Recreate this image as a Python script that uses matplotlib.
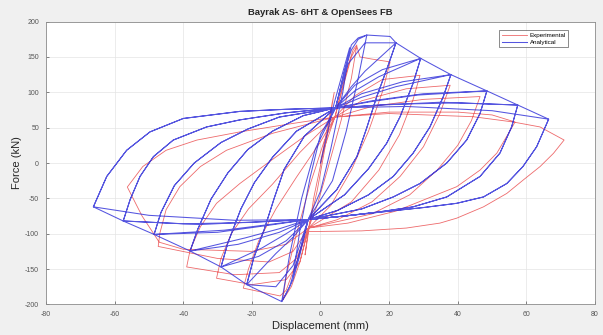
import matplotlib
matplotlib.use("Agg")
import matplotlib.pyplot as plt

# ---------------- data (displacement mm, force kN) ----------------
title = "Bayrak AS- 6HT & OpenSees FB"
xlabel = "Displacement (mm)"
ylabel = "Force (kN)"
series_names = ["Experimental", "Analytical"]
xticks = [-80, -60, -40, -20, 0, 20, 40, 60, 80]
yticks = [-200, -150, -100, -50, 0, 50, 100, 150, 200]

# Analytical (OpenSees) cycles: branches
blue_load_pos = [
    [(0, 0), (4, 85), (8.5, 163)],
    [(4.4, 78), (7, 130), (9, 160), (11, 175), (13.5, 181)],
    [(4.4, 78), (7, 130), (9, 167), (11, 177), (13.5, 181), (20.3, 179), (22, 170)],
    [(4.4, 78), (9, 108), (13, 130), (22, 170), (29.2, 148)],
    [(4.4, 78), (10, 102), (17, 122), (29.2, 148), (38, 125)],
    [(4.4, 78), (12, 93), (22, 108), (38, 125), (48.5, 102)],
    [(4.4, 78), (15, 87), (28, 96), (48.5, 102), (57.5, 82)],
    [(4.4, 78), (18, 82), (35, 86), (57.5, 82), (66.5, 62)],
]
blue_reload_pos = [
    None,
    None,
    [(4.4, 78), (8, 140), (13, 170), (22, 170)],
    [(4.4, 78), (10, 110), (18, 132), (29.2, 148)],
    [(4.4, 78), (12, 98), (24, 115), (38, 125)],
    [(4.4, 78), (15, 88), (30, 98), (48.5, 102)],
    [(4.4, 78), (20, 83), (40, 85), (57.5, 82)],
    [(4.4, 78), (25, 80), (50, 74), (66.5, 62)],
]
blue_unload_pos = [
    [(8.5, 163), (6.5, 100), (3, 20), (0, -40), (-3.6, -80)],
    [(13.5, 181), (11, 120), (7.5, 45), (3.5, -25), (-3.6, -80)],
    [(22, 170), (19.5, 135), (16.4, 94), (13.5, 50), (10.6, 9), (4.7, -38), (-3.6, -80)],
    [(29.2, 148), (27, 113), (23.2, 65.5), (19.3, 28), (14, -8), (7, -45), (-3.6, -80)],
    [(38, 125), (35.8, 94), (31.9, 51), (27, 14), (21.2, -19), (14, -45), (5, -67), (-3.6, -80)],
    [(48.5, 102), (46.5, 70), (42.6, 32.5), (36.8, 0), (29, -29), (21.2, -48), (12, -65), (-3.6, -80)],
    [(57.5, 82), (55.7, 51), (52.3, 14), (46.5, -19), (36.8, -48), (27, -62), (17.3, -69), (7, -75), (-3.6, -80)],
    [(66.5, 62), (63, 23), (59, -5), (54.3, -29), (47.5, -48), (39.7, -57), (30, -63), (18.3, -69), (7, -75), (-3.6, -80)],
]
blue_load_neg = [
    [(-3.6, -80), (-6, -125), (-8, -160)],
    [(-3.6, -80), (-6, -130), (-8, -165), (-10, -185), (-11.3, -196)],
    [(-3.6, -80), (-6.5, -135), (-9, -175), (-11.3, -196), (-21.5, -172)],
    [(-3.6, -80), (-8, -105), (-13, -128), (-21.5, -172), (-29, -147)],
    [(-3.6, -80), (-10, -100), (-17, -120), (-29, -147), (-38, -124.5)],
    [(-3.6, -80), (-12, -93), (-22, -106), (-38, -124.5), (-48.5, -101)],
    [(-3.6, -80), (-15, -87), (-28, -95), (-48.5, -101), (-57.5, -82)],
    [(-3.6, -80), (-18, -83), (-35, -87), (-57.5, -82), (-66.2, -62)],
]
blue_reload_neg = [
    None,
    None,
    [(-3.6, -80), (-8, -145), (-13, -175), (-21.5, -172)],
    [(-3.6, -80), (-10, -110), (-18, -132), (-29, -147)],
    [(-3.6, -80), (-12, -98), (-24, -115), (-38, -124.5)],
    [(-3.6, -80), (-15, -88), (-30, -98), (-48.5, -101)],
    [(-3.6, -80), (-20, -84), (-40, -86), (-57.5, -82)],
    [(-3.6, -80), (-25, -81), (-50, -74), (-66.2, -62)],
]
blue_unload_neg = [
    [(-8, -160), (-6, -95), (-3, -20), (0, 40), (4.4, 78)],
    [(-11.3, -196), (-9, -130), (-5.5, -50), (-1.5, 20), (4.4, 78)],
    [(-21.5, -172), (-19.5, -135), (-16.4, -94), (-13.5, -50), (-10.6, -9), (-4.7, 38), (4.4, 78)],
    [(-29, -147), (-27, -113), (-23.2, -65), (-19.3, -28), (-14, 8), (-7, 45), (4.4, 78)],
    [(-38, -124.5), (-35.8, -94), (-31.9, -51), (-27, -14), (-21.2, 19), (-14, 45), (-5, 67), (4.4, 78)],
    [(-48.5, -101), (-46.5, -70), (-42.6, -32), (-36.8, 0), (-29, 29), (-21.2, 48), (-12, 65), (4.4, 78)],
    [(-57.5, -82), (-55.5, -52), (-52.6, -19), (-48.7, 9), (-42.9, 32.5), (-33.2, 51), (-23.5, 61), (-10, 71), (4.4, 78)],
    [(-66.2, -62), (-62.3, -19), (-56.5, 18), (-49.7, 44), (-40, 63), (-23.5, 73), (-10, 76), (4.4, 78)],
]

# Experimental cycles
red_load_pos = [
    [(0, 0), (2, 50), (4, 100)],
    [(4.2, 65), (6.5, 110), (8.5, 145), (9.5, 160), (10.6, 167)],
    [(4.2, 65), (7, 115), (9, 150), (10.6, 165), (11.5, 150), (15, 147), (20.3, 143)],
    [(4.2, 65), (10, 95), (18, 118), (29, 124)],
    [(4.2, 65), (12, 88), (25, 105), (37.8, 110)],
    [(4.2, 65), (15, 80), (30, 90), (46.5, 94)],
    [(4.2, 65), (20, 72), (40, 72), (50, 68), (56.7, 58)],
    [(4.2, 65), (20, 70), (44.5, 65.5), (56.2, 58), (64, 51), (71, 32.5)],
]
red_unload_pos = [
    [(4, 100), (2, 40), (-1, -40), (-3.5, -92)],
    [(10.6, 167), (9, 120), (6, 60), (2, -10), (-1, -60), (-3.5, -92)],
    [(20.3, 143), (18, 100), (14, 45), (9, -10), (3, -60), (-3.5, -92)],
    [(29, 124), (27, 90), (23, 40), (17, -10), (9, -55), (-3.5, -92)],
    [(37.8, 110), (34.8, 70), (30, 23), (23.2, -19), (15, -55), (5, -80), (-3.5, -92)],
    [(46.5, 94), (44, 60), (40, 25), (34, -10), (26, -45), (15, -72), (-3.5, -92)],
    [(56.7, 58), (54.8, 42), (51.4, 14), (46.5, -10), (39.7, -33.5), (34.8, -43), (22, -68), (8, -85), (-3.5, -92)],
    [(71, 32.5), (67.9, 13.7), (64, -5), (59.1, -24), (54.3, -43), (47.5, -62), (39.7, -78), (34.8, -85), (25, -92), (12, -96), (-3.5, -97)],
]
red_load_neg = [
    [(-3.5, -92), (-4.5, -130)],
    [(-3.5, -92), (-6, -140), (-8.5, -175), (-11, -194)],
    [(-3.5, -92), (-7, -140), (-10, -180), (-11.8, -188), (-22.5, -177)],
    [(-3.5, -92), (-6, -140), (-10, -165), (-20, -172), (-30.3, -163)],
    [(-3.5, -92), (-7, -135), (-12, -155), (-25, -158), (-39, -147)],
    [(-3.5, -92), (-8, -125), (-15, -140), (-30, -135), (-47.3, -118)],
    [(-3.5, -92), (-10, -115), (-20, -125), (-40, -122), (-47, -112), (-52, -75), (-56.3, -34)],
    None,
]
red_unload_neg = [
    [(-4.5, -130), (-2, -50), (1, 20), (4.2, 65)],
    [(-11, -194), (-10, -160), (-7, -100), (-3, -30), (1, 30), (4.2, 65)],
    [(-22.5, -177), (-21, -150), (-18, -110), (-13, -65), (-7, -20), (0, 30), (4.2, 65)],
    [(-30.3, -163), (-29, -135), (-26, -100), (-21, -65), (-14, -30), (-6, 15), (4.2, 65)],
    [(-39, -147), (-38, -123), (-35, -90), (-30.3, -57), (-23.5, -29), (-14, 5), (-4, 40), (4.2, 65)],
    [(-47.3, -118), (-46.8, -99), (-45, -66), (-41, -33.5), (-35, -5), (-27.4, 18), (-14, 42), (4.2, 65)],
    [(-56.3, -34), (-51.8, -5), (-45, 18), (-36, 32.5), (-23.5, 44), (-8, 56), (4.2, 65)],
    None,
]


def assemble(branch_lists):
    xs, ys = [], []
    for branches in branch_lists:
        for br in branches:
            if br is None:
                continue
            pts = br[1:] if (xs and (xs[-1], ys[-1]) == br[0]) else br
            for p in pts:
                xs.append(p[0])
                ys.append(p[1])
    return xs, ys


red_seq = []
for i in range(len(red_load_pos)):
    red_seq.append([red_load_pos[i], red_unload_pos[i], red_load_neg[i], red_unload_neg[i]])
blue_seq = []
for i in range(len(blue_load_pos)):
    blue_seq.append([blue_load_pos[i], blue_unload_pos[i], blue_load_neg[i], blue_unload_neg[i]])
    if blue_reload_pos[i] is not None:
        blue_seq.append([blue_reload_pos[i], blue_unload_pos[i], blue_reload_neg[i], blue_unload_neg[i]])

rx, ry = assemble(red_seq)
bx, by = assemble(blue_seq)

plt.rcParams['font.family'] = ['Liberation Sans', 'DejaVu Sans']
fig = plt.figure(figsize=(6.03, 3.35), dpi=100, facecolor='#f0f0f0')
ax = fig.add_axes([0.0763, 0.0913, 0.9104, 0.8442])
ax.set_facecolor('white')

ax.plot(rx, ry, color='#e8383a', lw=0.6, alpha=0.75, solid_joinstyle='round', label=series_names[0])
ax.plot(bx, by, color='#2a2ad8', lw=0.75, alpha=0.8, solid_joinstyle='round', label=series_names[1])

ax.set_xlim(-80, 80)
ax.set_ylim(-200, 200)
ax.set_xticks(xticks)
ax.set_yticks(yticks)
ax.set_xticklabels([str(t) for t in xticks])
ax.set_yticklabels([str(t) for t in yticks])
ax.tick_params(direction='in', length=2.5, width=0.5, labelsize=5, colors='#555555', pad=5)
ax.grid(True, color='#e4e4e4', lw=0.5)
ax.set_axisbelow(True)
for s in ax.spines.values():
    s.set_color('#8c8c8c')
    s.set_linewidth(0.6)

ax.set_title(title, fontsize=6.8, fontweight='bold', color='#262626', pad=5)
ax.set_xlabel(xlabel, fontsize=8, color='#262626', labelpad=2)
ax.set_ylabel(ylabel, fontsize=8, color='#262626', labelpad=0)
ax.yaxis.set_label_coords(-0.043, 0.5)

leg = ax.legend(loc='upper right', bbox_to_anchor=(0.957, 0.98), fontsize=4.5, frameon=True,
                fancybox=False, edgecolor='#333333', handlelength=4, borderpad=0.4,
                labelspacing=0.2, handletextpad=0.4)
leg.get_frame().set_linewidth(0.5)

fig.savefig('out.png', dpi=100, facecolor=fig.get_facecolor())
